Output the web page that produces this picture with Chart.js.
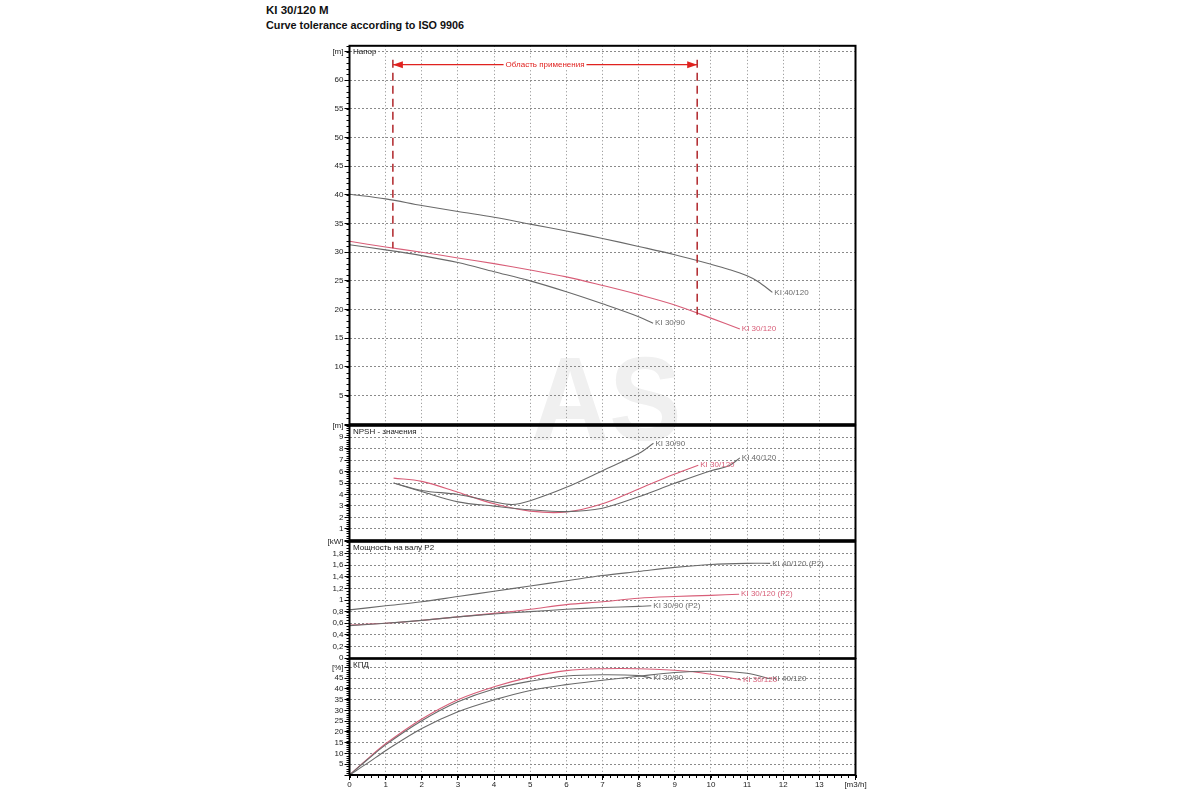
<!DOCTYPE html>
<html lang="ru">
<head>
<meta charset="UTF-8">
<title>KI 30/120 M</title>
<script src="https://cdn.jsdelivr.net/npm/chart.js"></script>
<style>
  body { margin: 0; background: #fff; font-family: "Liberation Sans", Arial, sans-serif; }
  #page { position: relative; width: 1200px; height: 800px; overflow: hidden; }
  .title { position: absolute; left: 266px; font-weight: bold; color: #111; white-space: nowrap; line-height: 1; }
  #t1 { top: 5px; font-size: 11.5px; }
  #t2 { top: 20px; font-size: 10.8px; }
  .panel { position: absolute; left: 290px; z-index: 1; }
  #watermark {
    position: absolute; left: 531px; top: 339px; z-index: 0;
    font-size: 119px; line-height: 119px; font-weight: bold; color: #f0f0f0;
    transform: scaleX(0.91); transform-origin: left top;
  }
</style>
</head>
<body>
<div id="page">
  <div class="title" id="t1">KI 30/120 M</div>
  <div class="title" id="t2">Curve tolerance according to ISO 9906</div>
  <div id="watermark">AS</div>
  <canvas class="panel" id="headChart" width="610" height="390" style="top:40px"></canvas>
  <canvas class="panel" id="npshChart" width="610" height="126" style="top:420px"></canvas>
  <canvas class="panel" id="powerChart" width="610" height="128" style="top:536px"></canvas>
  <canvas class="panel" id="effChart" width="610" height="147" style="top:653px"></canvas>
</div>

<script>
// ---- axis ticks ----
const flowTicks = [0, 1, 2, 3, 4, 5, 6, 7, 8, 9, 10, 11, 12, 13, 14];
const headTicks = [0, 5, 10, 15, 20, 25, 30, 35, 40, 45, 50, 55, 60, 65];
const npshTicks = [0, 1, 2, 3, 4, 5, 6, 7, 8, 9, 10];
const powerTicks = [0, 0.2, 0.4, 0.6, 0.8, 1, 1.2, 1.4, 1.6, 1.8, 2];
const effTicks = [0, 5, 10, 15, 20, 25, 30, 35, 40, 45, 50];

// ---- Напор [m] ----
const headFlow40120 = [0, 1, 2, 3, 4, 5, 6, 7, 8, 9, 10, 10.5, 11, 11.3, 11.7];
const head40120     = [40.1, 39.3, 38.15, 37.1, 36.1, 34.9, 33.7, 32.4, 31.0, 29.55, 27.9, 27.0, 25.9, 24.9, 23.0];
const headFlow30120 = [0, 1, 2, 3, 4, 5, 6, 7, 8, 9, 10, 10.8];
const head30120     = [31.9, 30.9, 30.0, 29.0, 28.0, 26.9, 25.7, 24.2, 22.6, 20.8, 18.5, 16.6];
const headFlow3090  = [0, 1, 2, 3, 4, 5, 6, 7, 8, 8.4];
const head3090      = [31.3, 30.4, 29.4, 28.2, 26.6, 25.0, 23.1, 21.0, 18.75, 17.6];

// application range (Область применения)
const rangeFlow = [1.2, 9.62];
const rangeHeadLow = [30.7, 19.1];
const rangeArrowLevel = 62.7;
const rangeText = 'Область применения';

// ---- NPSH [m] ----
const npshFlow3090  = [1.22, 2, 3, 4, 4.5, 5, 6, 7, 8, 8.41];
const npsh3090      = [5.0, 4.35, 4.0, 3.35, 3.12, 3.45, 4.62, 6.07, 7.57, 8.47];
const npshFlow30120 = [1.22, 2, 3, 4, 5, 6, 7, 8, 9, 9.65];
const npsh30120     = [5.43, 5.14, 4.19, 3.18, 2.54, 2.46, 3.18, 4.48, 5.78, 6.55];
const npshFlow40120 = [1.22, 2, 3, 4, 5, 6, 7, 8, 9, 10, 10.5, 10.8];
const npsh40120     = [5.0, 4.25, 3.35, 2.98, 2.66, 2.5, 2.8, 3.8, 4.97, 6.07, 6.5, 7.2];

// ---- Мощность на валу P2 [kW] ----
const powerFlow40120 = [0, 1, 2, 3, 4, 5, 6, 7, 8, 9, 10, 11, 11.64];
const power40120     = [0.83, 0.90, 0.97, 1.06, 1.15, 1.24, 1.33, 1.42, 1.49, 1.56, 1.61, 1.63, 1.63];
const powerFlow30120 = [0, 1, 2, 3, 4, 5, 6, 7, 8, 9, 10, 10.78];
const power30120     = [0.57, 0.60, 0.65, 0.71, 0.77, 0.84, 0.92, 0.97, 1.03, 1.06, 1.08, 1.10];
const powerFlow3090  = [0, 1, 2, 3, 4, 5, 6, 7, 8, 8.35];
const power3090      = [0.56, 0.60, 0.65, 0.71, 0.76, 0.80, 0.84, 0.87, 0.89, 0.90];

// ---- КПД [%] ----
const effFlow3090  = [0, 0.5, 1, 2, 3, 4, 5, 6, 7, 8, 8.35];
const eff3090      = [0, 7.2, 14, 25.2, 34, 40, 43.6, 46, 46.6, 46.2, 45];
const effFlow30120 = [0, 0.5, 1, 2, 3, 4, 5, 6, 7, 8, 9, 9.5, 10, 10.5, 10.83];
const eff30120     = [0, 7.5, 14.5, 26, 35, 41, 45.5, 48.5, 49.4, 49.4, 48.7, 48, 46.8, 45.3, 44.2];
const effFlow40120 = [0, 0.5, 1, 2, 3, 4, 5, 6, 7, 8, 9, 10, 11, 11.64];
const eff40120     = [0, 5.5, 11.3, 21.6, 29.4, 34.9, 39.3, 42, 44, 45.9, 47.6, 48.2, 47.3, 44.7];

const GRAY = '#6a6a6a';
const RED = '#d85e78';
const FONT = '"Liberation Sans", Arial, sans-serif';

function pts(flows, values) {
  return flows.map((q, i) => ({ x: q, y: values[i] }));
}

function curve(label, flows, values, color) {
  return {
    label: label,
    data: pts(flows, values),
    borderColor: color,
    borderWidth: 1.1,
    pointRadius: 0,
    fill: false,
    tension: 0.35
  };
}

// frame, panel title, minor ticks and curve end labels
const framePlugin = {
  id: 'frame',
  afterDatasetsDraw(chart, args, opts) {
    const { ctx, chartArea: a, scales } = chart;
    ctx.save();
    ctx.font = '8px ' + FONT;
    ctx.textBaseline = 'middle';
    chart.data.datasets.forEach((ds, i) => {
      const d = chart.getDatasetMeta(i).data;
      const p = d[d.length - 1];
      ctx.fillStyle = ds.borderColor;
      ctx.fillText(ds.label, p.x + 2, p.y);
    });

    ctx.strokeStyle = '#000';
    ctx.lineWidth = 2;
    ctx.strokeRect(a.left, a.top, a.right - a.left, a.bottom - a.top);

    ctx.fillStyle = '#222';
    ctx.fillText(opts.title, a.left + 3.5, a.top + 6);

    ctx.lineWidth = 1;
    const y = scales.y;
    const n = Math.round((y.max - y.min) / opts.minorStep);
    ctx.beginPath();
    for (let i = 0; i <= n; i++) {
      const py = Math.round(y.getPixelForValue(y.min + i * opts.minorStep)) + 0.5;
      ctx.moveTo(a.left - 3, py);
      ctx.lineTo(a.left, py);
    }
    if (opts.minorX) {
      const x = scales.x;
      for (let i = 0; i <= 70; i++) {
        const px = Math.round(x.getPixelForValue(i * 0.2)) + 0.5;
        ctx.moveTo(px, a.bottom);
        ctx.lineTo(px, a.bottom + 3);
      }
    }
    ctx.stroke();
    ctx.restore();
  }
};

// application range marks on the head panel
const rangePlugin = {
  id: 'range',
  afterDatasetsDraw(chart) {
    const { ctx, scales: { x, y } } = chart;
    const x1 = x.getPixelForValue(rangeFlow[0]);
    const x2 = x.getPixelForValue(rangeFlow[1]);
    const yA = y.getPixelForValue(rangeArrowLevel);
    ctx.save();
    ctx.strokeStyle = '#b0262b';
    ctx.lineWidth = 1.5;
    ctx.setLineDash([8, 5]);
    rangeFlow.forEach((q, i) => {
      const px = x.getPixelForValue(q);
      ctx.beginPath();
      ctx.moveTo(px, yA - 5);
      ctx.lineTo(px, y.getPixelForValue(rangeHeadLow[i]));
      ctx.stroke();
    });
    ctx.setLineDash([]);
    ctx.strokeStyle = '#e0221f';
    ctx.fillStyle = '#e0221f';
    ctx.lineWidth = 1.2;
    ctx.beginPath();
    ctx.moveTo(x1, yA);
    ctx.lineTo(x2, yA);
    ctx.stroke();
    [[x1, 1], [x2, -1]].forEach(([px, dir]) => {
      ctx.beginPath();
      ctx.moveTo(px, yA);
      ctx.lineTo(px + dir * 10, yA - 3.5);
      ctx.lineTo(px + dir * 10, yA + 3.5);
      ctx.closePath();
      ctx.fill();
    });
    ctx.font = '8px ' + FONT;
    const w = ctx.measureText(rangeText).width;
    const cx = (x1 + x2) / 2;
    ctx.fillStyle = '#fff';
    ctx.fillRect(cx - w / 2 - 2, yA - 5, w + 4, 10);
    ctx.fillStyle = '#e0221f';
    ctx.textAlign = 'center';
    ctx.textBaseline = 'middle';
    ctx.fillText(rangeText, cx, yA + 0.5);
    ctx.restore();
  }
};

function panelChart(id, cfg) {
  const showX = !!cfg.showX;
  return new Chart(document.getElementById(id), {
    type: 'line',
    data: { datasets: cfg.datasets },
    plugins: cfg.extraPlugins ? [framePlugin].concat(cfg.extraPlugins) : [framePlugin],
    options: {
      responsive: false,
      animation: false,
      layout: { padding: { left: 0, right: 44.5, top: cfg.padTop, bottom: cfg.padBottom } },
      plugins: {
        legend: { display: false },
        tooltip: { enabled: false },
        frame: { title: cfg.title, minorStep: cfg.minorStep, minorX: showX }
      },
      scales: {
        x: {
          type: 'linear',
          min: 0,
          max: 14,
          afterBuildTicks: s => { s.ticks = flowTicks.map(v => ({ value: v })); },
          afterFit: s => { s.height = showX ? 25 : 0; },
          ticks: {
            display: showX,
            autoSkip: false,
            maxRotation: 0,
            padding: 0,
            font: { size: 8, family: FONT },
            color: '#222',
            callback: v => (v === 14 ? '[m3/h]' : String(v))
          },
          grid: {
            color: '#8a8a8a',
            lineWidth: 1,
            drawTicks: showX,
            tickLength: 5,
            tickColor: '#000',
            tickBorderDash: []
          },
          border: { display: false, dash: [1, 2.5] }
        },
        y: {
          type: 'linear',
          min: 0,
          max: cfg.yMax,
          afterBuildTicks: s => { s.ticks = cfg.yTicks.map(v => ({ value: v })); },
          afterFit: s => { s.width = 59.5; },
          ticks: {
            autoSkip: false,
            padding: 1,
            font: { size: 8, family: FONT },
            color: '#222',
            callback: cfg.yLabel
          },
          grid: {
            color: '#8a8a8a',
            lineWidth: 1,
            drawTicks: true,
            tickLength: 5,
            tickColor: '#000',
            tickBorderDash: []
          },
          border: { display: false, dash: [2, 2] }
        }
      }
    }
  });
}

panelChart('headChart', {
  title: 'Напор',
  yMax: 66,
  yTicks: headTicks,
  yLabel: v => (v === 65 ? '[m]' : v === 0 ? '' : String(v)),
  minorStep: 1,
  padTop: 5.5,
  padBottom: 5,
  extraPlugins: [rangePlugin],
  datasets: [
    curve('KI 40/120', headFlow40120, head40120, GRAY),
    curve('KI 30/90', headFlow3090, head3090, GRAY),
    curve('KI 30/120', headFlow30120, head30120, RED)
  ]
});

panelChart('npshChart', {
  title: 'NPSH - значения',
  yMax: 10,
  yTicks: npshTicks,
  yLabel: v => (v === 10 ? '[m]' : v === 0 ? '' : String(v)),
  minorStep: 0.2,
  padTop: 5,
  padBottom: 4.5,
  datasets: [
    curve('KI 30/90', npshFlow3090, npsh3090, GRAY),
    curve('KI 40/120', npshFlow40120, npsh40120, GRAY),
    curve('KI 30/120', npshFlow30120, npsh30120, RED)
  ]
});

panelChart('powerChart', {
  title: 'Мощность на валу P2',
  yMax: 2,
  yTicks: powerTicks,
  yLabel: v => (v === 2 ? '[kW]' : String(v).replace('.', ',')),
  minorStep: 0.05,
  padTop: 5.5,
  padBottom: 5.5,
  datasets: [
    curve('KI 40/120 (P2)', powerFlow40120, power40120, GRAY),
    curve('KI 30/90 (P2)', powerFlow3090, power3090, GRAY),
    curve('KI 30/120 (P2)', powerFlow30120, power30120, RED)
  ]
});

panelChart('effChart', {
  title: 'КПД',
  yMax: 54,
  yTicks: effTicks,
  yLabel: v => (v === 50 ? '[%]' : v === 0 ? '' : String(v)),
  minorStep: 1,
  padTop: 5.5,
  padBottom: 0,
  showX: true,
  datasets: [
    curve('KI 30/90', effFlow3090, eff3090, GRAY),
    curve('KI 40/120', effFlow40120, eff40120, GRAY),
    curve('KI 30/120', effFlow30120, eff30120, RED)
  ]
});
</script>
</body>
</html>
